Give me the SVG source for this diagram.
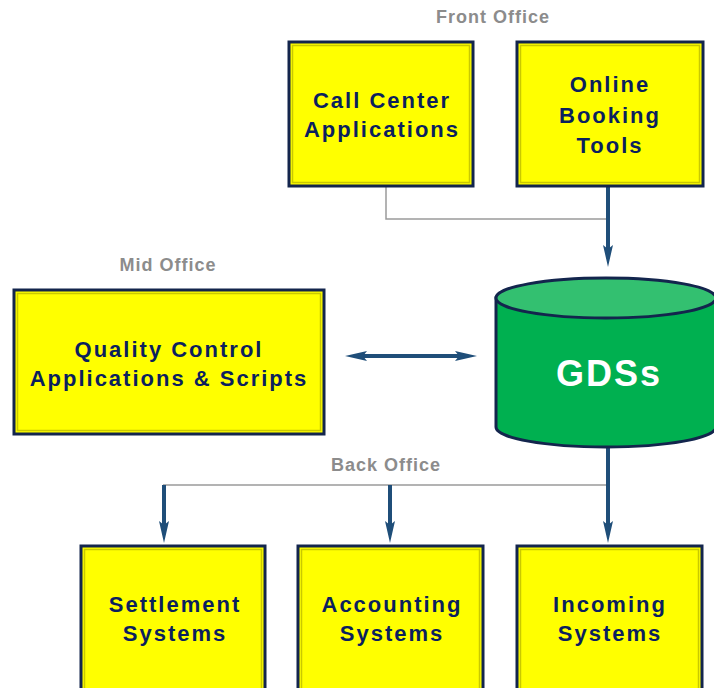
<svg xmlns="http://www.w3.org/2000/svg" width="714" height="688" viewBox="0 0 714 688">
<defs>
<style>
.box{fill:#ffff00;stroke:#13254d;stroke-width:3}
.bev{fill:none;stroke:#c9c900;stroke-width:1.5}
.t{font-family:"Liberation Sans",Arial,sans-serif;font-weight:bold;font-size:22px;fill:#0b1f5e;letter-spacing:2px;text-anchor:middle}
.lbl{font-family:"Liberation Sans",Arial,sans-serif;font-weight:bold;font-size:18px;fill:#8c8c8c;letter-spacing:1px;text-anchor:middle}
.gray{fill:none;stroke:#9a9a9a;stroke-width:1.5}
.blue{fill:none;stroke:#1f4e79;stroke-width:4}
</style>
<marker id="ah" viewBox="0 0 22 11" refX="8" refY="5.5" markerWidth="22" markerHeight="11" orient="auto-start-reverse" markerUnits="userSpaceOnUse">
<path d="M0,0.5 L22,5.5 L0,10.5 L4,5.5 Z" fill="#1f4e79"/>
</marker>
</defs>
<rect width="714" height="688" fill="#ffffff"/>
<text class="lbl" x="493" y="23">Front Office</text>
<text class="lbl" x="168" y="271">Mid Office</text>
<text class="lbl" x="386" y="471">Back Office</text>
<g id="connectors">
<polyline class="gray" points="386,186 386,219 607,219"/>
<line class="blue" x1="608" y1="186" x2="608" y2="253" marker-end="url(#ah)"/>
<line class="blue" x1="359" y1="356" x2="463" y2="356" marker-start="url(#ah)" marker-end="url(#ah)"/>
<line class="gray" x1="163" y1="485" x2="607" y2="485"/>
<line class="blue" x1="608" y1="446" x2="608" y2="529" marker-end="url(#ah)"/>
<line class="blue" x1="164" y1="485" x2="164" y2="529" marker-end="url(#ah)"/>
<line class="blue" x1="390" y1="485" x2="390" y2="529" marker-end="url(#ah)"/>
</g>
<g id="callcenter">
<rect class="box" x="289" y="42" width="184" height="144"/>
<rect class="bev" x="292.5" y="45.5" width="177" height="137"/>
<text class="t" x="382" y="108">Call Center</text>
<text class="t" x="382" y="137">Applications</text>
</g>
<g id="online">
<rect class="box" x="517" y="42" width="186" height="144"/>
<rect class="bev" x="520.5" y="45.5" width="179" height="137"/>
<text class="t" x="610" y="92">Online</text>
<text class="t" x="610" y="123">Booking</text>
<text class="t" x="610" y="153">Tools</text>
</g>
<g id="quality">
<rect class="box" x="14" y="290" width="310" height="144"/>
<rect class="bev" x="17.5" y="293.5" width="303" height="137"/>
<text class="t" x="169" y="357">Quality Control</text>
<text class="t" x="169" y="386">Applications &amp; Scripts</text>
</g>
<g id="gds">
<path d="M496,298 L496,427 A110,20 0 0 0 716,427 L716,298 Z" fill="#00b050" stroke="#13254d" stroke-width="3"/>
<ellipse cx="606" cy="298" rx="110" ry="20" fill="#33c070" stroke="#13254d" stroke-width="3"/>
<text x="609" y="386" font-family="'Liberation Sans',Arial,sans-serif" font-weight="bold" font-size="36" fill="#ffffff" letter-spacing="2" text-anchor="middle">GDSs</text>
</g>
<g id="settlement">
<rect class="box" x="81" y="546" width="184" height="160"/>
<rect class="bev" x="84.5" y="549.5" width="177" height="153"/>
<text class="t" x="175" y="612">Settlement</text>
<text class="t" x="175" y="641">Systems</text>
</g>
<g id="accounting">
<rect class="box" x="298" y="546" width="185" height="160"/>
<rect class="bev" x="301.5" y="549.5" width="178" height="153"/>
<text class="t" x="392" y="612">Accounting</text>
<text class="t" x="392" y="641">Systems</text>
</g>
<g id="incoming">
<rect class="box" x="517" y="546" width="185" height="160"/>
<rect class="bev" x="520.5" y="549.5" width="178" height="153"/>
<text class="t" x="610" y="612">Incoming</text>
<text class="t" x="610" y="641">Systems</text>
</g>
</svg>
